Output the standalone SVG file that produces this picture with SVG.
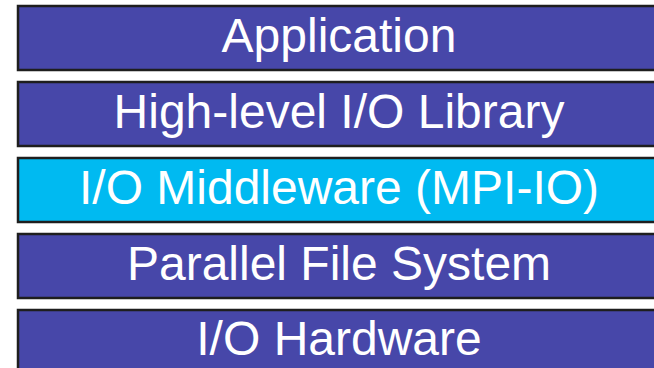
<svg xmlns="http://www.w3.org/2000/svg" width="654" height="368" viewBox="0 0 654 368">
<style>
.box{stroke:#1e1e1e;stroke-width:2.5}
.p{fill:#4747A9}
.c{fill:#00BAF1}
.t{fill:#fff;font-family:"Liberation Sans",Arial,sans-serif;font-size:48px;text-anchor:middle}
</style>
<rect width="654" height="368" fill="#fff"/>
<g id="application"><rect class="box p" x="18" y="6" width="660" height="64"/><text class="t" x="339" y="52">Application</text></g>
<g id="hlio"><rect class="box p" x="18" y="82" width="660" height="64"/><text class="t" x="339" y="128">High-level I/O Library</text></g>
<g id="middleware"><rect class="box c" x="18" y="158" width="660" height="64"/><text class="t" x="339" y="204">I/O Middleware (MPI-IO)</text></g>
<g id="pfs"><rect class="box p" x="18" y="234" width="660" height="64"/><text class="t" x="339" y="280">Parallel File System</text></g>
<g id="hardware"><rect class="box p" x="18" y="310" width="660" height="80"/><text class="t" x="339" y="355">I/O Hardware</text></g>
<g id="connectors"></g>
</svg>
